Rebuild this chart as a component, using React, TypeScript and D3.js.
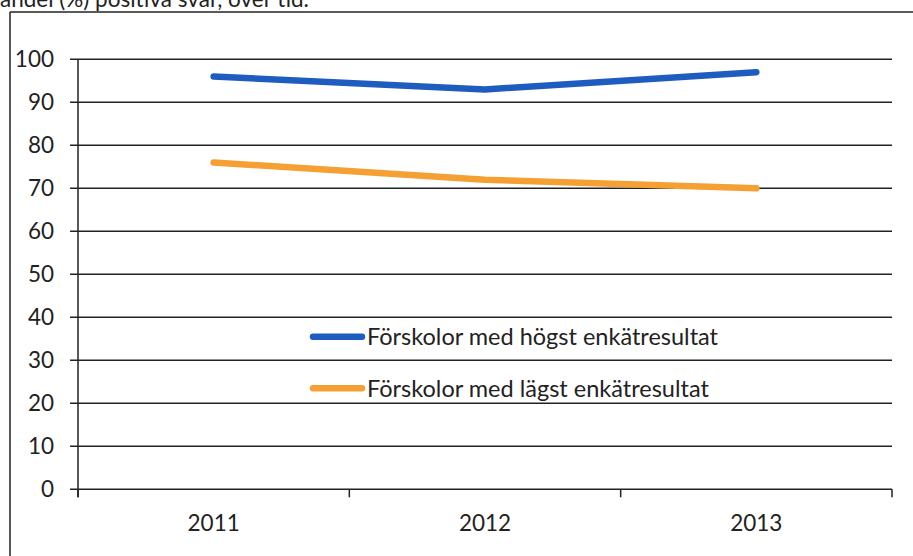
import React from "react";
import * as d3 from "d3";

const years = ["2011", "2012", "2013"];
const highest = [96, 93, 97];
const lowest = [76, 72, 70];
const yTicks = [0, 10, 20, 30, 40, 50, 60, 70, 80, 90, 100];
const seriesNames = ["Förskolor med högst enkätresultat", "Förskolor med lägst enkätresultat"];
const seriesColors = ["#1f5cbf", "#f5a033"];
const captionText = "andel (%) positiva svar, över tid.";

const W = 913;
const H = 556;
const FONT = "Lato, 'Open Sans', sans-serif";
const INK = "#222";

export default function App() {
  const x = d3.scaleBand<string>().domain(years).range([78, 892]).paddingInner(0).paddingOuter(0);
  const y = d3.scaleLinear().domain([0, 100]).range([489.3, 59.3]);
  const line = d3
    .line<number>()
    .x((_, i) => (x(years[i]) as number) + x.bandwidth() / 2)
    .y((d) => y(d))
    .curve(d3.curveLinear);
  const series = [highest, lowest];
  const boundaries = [...years.map((yr) => x(yr) as number), 892];
  const legendY = [y(35.5), y(23.5)];

  return (
    <svg width={W} height={H} style={{ position: "absolute", left: 0, top: 0, background: "#fff" }}>
      <rect x={0} y={0} width={W} height={H} fill="#fff" />
      <text x={0} y={7} fontFamily={FONT} fontSize={22.5} fill={INK}>
        {captionText}
      </text>
      {/* frame */}
      <line x1={10} x2={W + 5} y1={12} y2={12} stroke={INK} strokeWidth={1.5} />
      <line x1={10} x2={10} y1={12} y2={H + 5} stroke={INK} strokeWidth={1.5} />
      {/* gridlines + y ticks */}
      {yTicks.map((t) => (
        <g key={t}>
          <line x1={70} x2={892} y1={y(t)} y2={y(t)} stroke={INK} strokeWidth={1.5} />
          <text
            x={54}
            y={y(t)}
            dy="0.36em"
            textAnchor="end"
            fontFamily={FONT}
            fontSize={22.5}
            fill={INK}
          >
            {t}
          </text>
        </g>
      ))}
      {/* y axis */}
      <line x1={78} x2={78} y1={y(100)} y2={y(0) + 8} stroke={INK} strokeWidth={1.5} />
      {/* x ticks */}
      {boundaries.map((bx, i) => (
        <line key={i} x1={bx} x2={bx} y1={y(0)} y2={y(0) + 8} stroke={INK} strokeWidth={1.5} />
      ))}
      {years.map((yr) => (
        <text
          key={yr}
          x={(x(yr) as number) + x.bandwidth() / 2}
          y={531}
          textAnchor="middle"
          fontFamily={FONT}
          fontSize={22.5}
          fill={INK}
        >
          {yr}
        </text>
      ))}
      {/* series */}
      {series.map((s, i) => (
        <path
          key={i}
          d={line(s) as string}
          fill="none"
          stroke={seriesColors[i]}
          strokeWidth={6.5}
          strokeLinecap="round"
          strokeLinejoin="round"
        />
      ))}
      {/* legend */}
      {seriesNames.map((n, i) => (
        <g key={n}>
          <line
            x1={313}
            x2={362}
            y1={legendY[i]}
            y2={legendY[i]}
            stroke={seriesColors[i]}
            strokeWidth={6.5}
            strokeLinecap="round"
          />
          <text x={367} y={legendY[i]} dy="0.36em" fontFamily={FONT} fontSize={23.5} fill={INK}>
            {n}
          </text>
        </g>
      ))}
    </svg>
  );
}
